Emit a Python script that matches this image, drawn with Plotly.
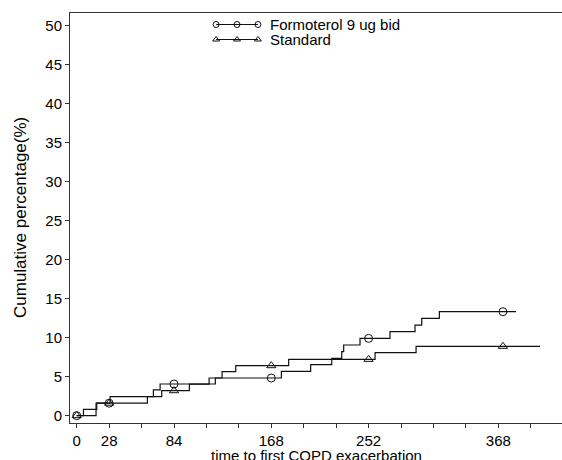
import numpy as np
import plotly.graph_objects as go

# ---- data ----
form_days = [0, 5.8, 17.3, 28.8, 66.2, 72, 119.7, 176.7, 202, 220.2, 228.8, 230.5, 244.6, 270.5, 292.1, 297.9, 313.1, 379.3]
form_pct = [0, 0.8, 1.6, 2.45, 3.3, 4.06, 4.83, 5.68, 6.54, 7.35, 8.2, 9.06, 9.91, 10.77, 11.62, 12.48, 13.33, 13.33]

std_days = [0, 16.7, 61, 73.4, 97.3, 114.3, 125.5, 137.3, 183, 257.6, 293, 400]
std_pct = [0, 1.6, 2.45, 3.2, 4.05, 4.83, 5.64, 6.41, 7.22, 8.08, 8.89, 8.89]

marker_days = [0, 28, 84, 168, 252, 368]

x_tick_vals = list(range(0, 421, 28))
x_tick_labels = {0: "0", 28: "28", 84: "84", 168: "168", 252: "252", 364: "368"}
y_tick_vals = list(range(0, 51, 5))

series_names = ["Formoterol 9 ug bid", "Standard"]
x_title = "time to first COPD exacerbation"
y_title = "Cumulative percentage(%)"


def step_value(days, pct, t):
    i = np.searchsorted(np.asarray(days), t, side="right") - 1
    return pct[max(i, 0)]


FONT = "Liberation Sans, Arial, sans-serif"
LINE_COLOR = "#111111"

fig = go.Figure()

for days, pct, sym, name in [(form_days, form_pct, "circle-open", series_names[0]),
                             (std_days, std_pct, "triangle-up-open", series_names[1])]:
    fig.add_trace(go.Scatter(x=days, y=pct, mode="lines", line=dict(color=LINE_COLOR, width=1.2, shape="hv"),
                             showlegend=False, hoverinfo="skip"))
    fig.add_trace(go.Scatter(x=marker_days, y=[step_value(days, pct, t) for t in marker_days], mode="markers",
                             marker=dict(symbol=sym, size=8, color=LINE_COLOR, line=dict(width=1, color=LINE_COLOR)),
                             showlegend=False, name=name, cliponaxis=False))

# legend samples (hand-drawn legend on a hidden helper axis)
for row, sym, name in [(29.5, "circle-open", series_names[0]), (14.5, "triangle-up-open", series_names[1])]:
    fig.add_trace(go.Scatter(x=[0, 1, 2], y=[row, row, row], mode="lines+markers", xaxis="x2", yaxis="y2",
                             line=dict(color=LINE_COLOR, width=1),
                             marker=dict(symbol=sym, size=6, color=LINE_COLOR, line=dict(width=1, color=LINE_COLOR)),
                             showlegend=False, hoverinfo="skip", cliponaxis=False))
    fig.add_annotation(x=0.4025, xref="paper", y=row, yref="y2", text=name, showarrow=False,
                       xanchor="left", yanchor="middle", font=dict(family=FONT, size=15, color="#000"))

# axis titles
fig.add_annotation(x=0.5, xref="paper", y=0, yref="paper", yanchor="top", yshift=-22, text=x_title,
                   showarrow=False, font=dict(family=FONT, size=15, color="#000"))
fig.add_annotation(x=0, xref="paper", y=0.5, yref="paper", xanchor="center", xshift=-50, text=y_title,
                   textangle=-90, showarrow=False, font=dict(family=FONT, size=17, color="#000"))

fig.update_layout(
    width=562, height=460,
    margin=dict(l=70, r=0, t=13, b=37),
    paper_bgcolor="white", plot_bgcolor="white",
    showlegend=False,
    font=dict(family=FONT, size=15, color="#000"),
    xaxis=dict(range=[-5.8, 419], tickmode="array", tickvals=x_tick_vals,
               ticktext=[x_tick_labels.get(v, "") for v in x_tick_vals],
               ticks="outside", ticklen=4, tickcolor="#333", showgrid=False, zeroline=False,
               showline=True, linecolor="#333", linewidth=1, mirror=True,
               automargin=False, tickfont=dict(size=15)),
    yaxis=dict(range=[-0.94, 51.63], tickmode="array", tickvals=y_tick_vals,
               ticks="outside", ticklen=4, tickcolor="#333", showgrid=False, zeroline=False,
               showline=True, linecolor="#333", linewidth=1,
               automargin=False, tickfont=dict(size=15)),
    xaxis2=dict(domain=[0.297, 0.382], range=[0, 2], anchor="y2", visible=False),
    yaxis2=dict(domain=[0.9, 1.0], range=[0, 41], anchor="x2", visible=False),
)

fig.write_html("out.html", config={"displayModeBar": False},
               post_script="document.body.style.margin='0';document.body.style.overflow='hidden';")
